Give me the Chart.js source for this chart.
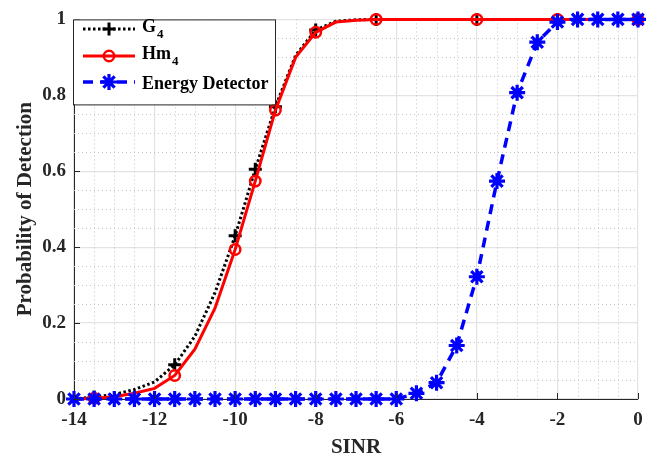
<!DOCTYPE html>
<html>
<head>
<meta charset="utf-8">
<script src="https://cdn.jsdelivr.net/npm/chart.js@4.4.0/dist/chart.umd.min.js"></script>
<style>
  html, body { margin: 0; padding: 0; background: #fff; }
  #wrap { width: 668px; height: 459px; }
</style>
</head>
<body>
<div id="wrap"><canvas id="myChart" width="668" height="459"></canvas></div>
<script>
// SINR values (x axis)
const sinr = [-14, -13.5, -13, -12.5, -12, -11.5, -11, -10.5, -10, -9.5, -9, -8.5, -8, -7.5,
              -7, -6.5, -6, -5.5, -5, -4.5, -4, -3.5, -3, -2.5, -2, -1.5, -1, -0.5, 0];

// probability of detection
const g4  = [0, 0.005, 0.012, 0.025, 0.045, 0.09, 0.165, 0.28, 0.43, 0.605, 0.77, 0.905, 0.972, 0.995,
             0.999, 1, 1, 1, 1, 1, 1, 1, 1, 1, 1, 1, 1, 1, 1];
const hm4 = [0, 0.002, 0.006, 0.015, 0.028, 0.062, 0.131, 0.239, 0.394, 0.574, 0.761, 0.9, 0.966, 0.993,
             0.998, 1, 1, 1, 1, 1, 1, 1, 1, 1, 1, 1, 1, 1, 1];
const energy = [0, 0, 0, 0, 0, 0, 0, 0, 0, 0, 0, 0, 0, 0,
                0, 0, 0, 0.015, 0.043, 0.141, 0.322, 0.574, 0.807, 0.94, 0.993, 1, 1, 1, 1];

// where the G4 / Hm4 curves carry a marker
const markerAt = [-13.5, -11.5, -10, -9.5, -9, -8, -6.5, -4, -2, 0];

const xTicks = [-14, -12, -10, -8, -6, -4, -2, 0];
const yTicks = [0, 0.2, 0.4, 0.6, 0.8, 1];

const serif = '"Liberation Serif", "Times New Roman", serif';

function pts(arr) {
    return sinr.map((x, i) => ({ x: x, y: arr[i] }));
}
function markerRadius(r) {
    return ctx => (markerAt.includes(sinr[ctx.dataIndex]) ? r : 0);
}

// minor dotted grid + inward ticks + titles + legend
const extras = {
    id: 'extras',
    beforeDatasetsDraw(chart) {
        const c = chart.ctx, a = chart.chartArea;
        const xs = chart.scales.x, ys = chart.scales.y;
        c.save();
        c.strokeStyle = '#c4c4c4';
        c.lineWidth = 1;
        c.setLineDash([1, 3]);
        for (let v = -14; v <= 0; v += 0.5) {
            if (v % 2 === 0) continue;
            const px = Math.round(xs.getPixelForValue(v)) + 0.5;
            c.beginPath(); c.moveTo(px, a.top); c.lineTo(px, a.bottom); c.stroke();
        }
        for (let k = 1; k < 20; k++) {
            if (k % 4 === 0) continue;
            const py = Math.round(ys.getPixelForValue(k * 0.05)) + 0.5;
            c.beginPath(); c.moveTo(a.left, py); c.lineTo(a.right, py); c.stroke();
        }
        c.restore();
    },
    afterDraw(chart) {
        const c = chart.ctx, a = chart.chartArea;
        const xs = chart.scales.x, ys = chart.scales.y;
        c.save();
        // inward ticks
        c.strokeStyle = '#262626';
        c.lineWidth = 1;
        xTicks.forEach(v => {
            const px = Math.round(xs.getPixelForValue(v)) + 0.5;
            c.beginPath(); c.moveTo(px, a.bottom); c.lineTo(px, a.bottom - 6); c.stroke();
        });
        yTicks.forEach(v => {
            const py = Math.round(ys.getPixelForValue(v)) + 0.5;
            c.beginPath(); c.moveTo(a.left, py); c.lineTo(a.left + 6, py); c.stroke();
        });

        // axis titles
        c.fillStyle = '#262626';
        c.font = 'bold 21px ' + serif;
        c.textAlign = 'center';
        c.textBaseline = 'alphabetic';
        c.fillText('SINR', (a.left + a.right) / 2, 453);
        c.save();
        c.translate(31, (a.top + a.bottom) / 2);
        c.rotate(-Math.PI / 2);
        c.fillText('Probability of Detection', 0, 0);
        c.restore();

        // legend box
        const bx = a.left - 1, by = a.top, bw = 202, bh = 85;
        c.fillStyle = '#fff';
        c.fillRect(bx, by, bw, bh);
        c.strokeStyle = '#262626';
        c.lineWidth = 1;
        c.strokeRect(bx + 0.5, by + 0.5, bw, bh);

        const rows = [
            { y: 29, label: 'G', sub: '4', ds: 0 },
            { y: 56, label: 'Hm', sub: '4', ds: 1 },
            { y: 82, label: 'Energy Detector', sub: null, ds: 2 }
        ];
        const x0 = 83, x1 = 135, xm = 109, tx = 142;
        rows.forEach(r => {
            const d = chart.data.datasets[r.ds];
            c.save();
            c.strokeStyle = d.borderColor;
            c.lineWidth = d.borderWidth;
            c.setLineDash(d.borderDash || []);
            c.beginPath(); c.moveTo(x0, r.y); c.lineTo(x1, r.y); c.stroke();
            c.restore();
            c.save();
            c.strokeStyle = d.pointBorderColor;
            c.lineWidth = d.pointBorderWidth;
            c.fillStyle = d.pointBackgroundColor;
            c.setLineDash([]);
            Chart.helpers.drawPoint(c, {
                pointStyle: d.pointStyle,
                radius: d.legendRadius,
                borderWidth: d.pointBorderWidth,
                rotation: 0
            }, xm, r.y);
            c.restore();
            c.fillStyle = '#000';
            c.textAlign = 'left';
            c.font = 'bold 18px ' + serif;
            if (r.sub) {
                const base = r.y + 3;
                c.fillText(r.label, tx, base);
                const w = c.measureText(r.label).width;
                c.font = 'bold 13px ' + serif;
                c.fillText(r.sub, tx + w + 1, base + 6);
            } else {
                c.fillText(r.label, tx, r.y + 6.5);
            }
        });
        c.restore();
    }
};

const ctx = document.getElementById('myChart').getContext('2d');
const myChart = new Chart(ctx, {
    type: 'line',
    data: {
        datasets: [
            {
                label: 'G4',
                data: pts(g4),
                borderColor: '#000',
                borderWidth: 3,
                borderDash: [2.5, 2.5],
                pointStyle: 'cross',
                pointRadius: markerRadius(6.5),
                legendRadius: 6.5,
                pointBorderWidth: 3,
                pointBorderColor: '#000',
                pointBackgroundColor: 'rgba(0,0,0,0)',
                order: 2,
                clip: false
            },
            {
                label: 'Hm4',
                data: pts(hm4),
                borderColor: '#ff0000',
                borderWidth: 3,
                pointStyle: 'circle',
                pointRadius: markerRadius(5.2),
                legendRadius: 5.2,
                pointBorderWidth: 2.5,
                pointBorderColor: '#ff0000',
                pointBackgroundColor: 'rgba(0,0,0,0)',
                order: 1,
                clip: false
            },
            {
                label: 'Energy Detector',
                data: pts(energy),
                borderColor: '#0000ff',
                borderWidth: 3.5,
                borderDash: [10, 7],
                pointStyle: 'star',
                pointRadius: 8,
                legendRadius: 8,
                pointBorderWidth: 3.2,
                pointBorderColor: '#0000ff',
                pointBackgroundColor: '#0000ff',
                order: 0,
                clip: false
            }
        ]
    },
    options: {
        responsive: false,
        animation: false,
        layout: { padding: { top: 12, right: 30, left: 0, bottom: 0 } },
        plugins: { legend: { display: false }, tooltip: { enabled: false } },
        elements: { line: { tension: 0 } },
        scales: {
            x: {
                type: 'linear',
                min: -14, max: 0,
                afterBuildTicks: s => { s.ticks = xTicks.map(v => ({ value: v })); },
                afterFit: s => { s.height = 60; },
                grid: { color: '#e3e3e3', lineWidth: 1.2, drawTicks: false },
                border: { display: true, color: '#262626', width: 1 },
                ticks: {
                    color: '#262626', padding: 10, maxRotation: 0,
                    font: { family: serif, size: 19, weight: 'bold' },
                    callback: v => String(v)
                }
            },
            y: {
                min: 0, max: 1,
                afterBuildTicks: s => { s.ticks = yTicks.map(v => ({ value: v })); },
                afterFit: s => { s.width = 74; },
                grid: { color: '#e3e3e3', lineWidth: 1.2, drawTicks: false },
                border: { display: true, color: '#262626', width: 1 },
                ticks: {
                    color: '#262626', padding: 8,
                    font: { family: serif, size: 19, weight: 'bold' },
                    callback: v => String(v)
                }
            }
        }
    },
    plugins: [extras]
});
</script>
</body>
</html>
